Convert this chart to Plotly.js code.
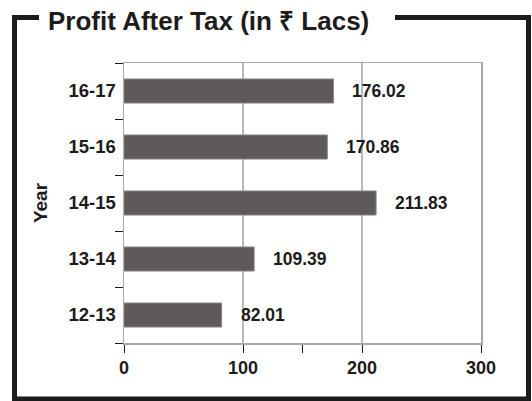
<!DOCTYPE html>
<html>
<head>
<meta charset="utf-8">
<script src="https://cdn.plot.ly/plotly-3.0.1.min.js"></script>
<style>html,body{margin:0;padding:0;background:#fff;}</style>
</head>
<body>
<div id="chart" style="width:532px;height:401px;"></div>
<script>
const years = ['12-13', '13-14', '14-15', '15-16', '16-17'];
const profit = [82.01, 109.39, 211.83, 170.86, 176.02];
const labels = ['82.01', '109.39', '211.83', '170.86', '176.02'];
const xTicks = [0, 100, 200, 300];
const xTickText = ['0', '100', '200', '300'];

const W = 532, H = 401;
const L = 124, R = 481, T = 63, B = 343;
const px = x => (x - L) / (R - L);
const py = y => (B - y) / (B - T);

const font = 'Arial, "Liberation Sans", sans-serif';
const dark = '#1e1b1b';

const trace = {
  type: 'bar',
  orientation: 'h',
  y: years,
  x: profit,
  marker: {color: '#5e5a5a', line: {color: '#8a8686', width: 1}},
  hoverinfo: 'none'
};

const annotations = years.map((y, i) => ({
  x: profit[i], y: y, xref: 'x', yref: 'y',
  text: labels[i], showarrow: false,
  xanchor: 'left', yanchor: 'middle', xshift: 17,
  font: {family: font, size: 17.5, color: dark, weight: 'bold'}
}));

const xl = px(14.5), xr = px(528.5), yt = py(17.5), yb = py(399);
const framePath = `M ${px(39)},${yt} L ${xl},${yt} L ${xl},${yb} L ${xr},${yb} L ${xr},${yt} L ${px(395)},${yt}`;

const layout = {
  width: W, height: H,
  margin: {l: L, r: W - R, t: T, b: H - B, pad: 0},
  paper_bgcolor: '#fff', plot_bgcolor: '#fff',
  showlegend: false,
  bargap: 0.57,
  title: {
    text: '<b>Profit After Tax (in ₹ Lacs)</b>',
    x: 48 / W, xanchor: 'left', xref: 'container',
    y: 1 - 21 / H, yanchor: 'middle', yref: 'container',
    font: {family: font, size: 26, color: dark}
  },
  xaxis: {
    range: [0, 300], fixedrange: true,
    tickvals: xTicks, ticktext: xTickText,
    ticks: 'outside', ticklen: 8, tickcolor: dark, tickwidth: 1,
    showgrid: true, gridcolor: '#b9b9b9', gridwidth: 1.5,
    showline: true, linecolor: '#a8a8a8', linewidth: 1.5, mirror: true,
    zeroline: false,
    tickfont: {family: font, size: 18, color: dark, weight: 'bold'},
    minor: {tickvals: [150], ticks: 'outside', ticklen: 8, tickcolor: dark, showgrid: false}
  },
  yaxis: {
    type: 'category', categoryorder: 'array', categoryarray: years,
    range: [-0.5, 4.5], fixedrange: true,
    tickson: 'boundaries',
    ticks: 'outside', ticklen: 8, tickcolor: dark, tickwidth: 1,
    ticklabelstandoff: 3,
    showgrid: false,
    showline: true, linecolor: '#a8a8a8', linewidth: 1.5, mirror: true,
    tickfont: {family: font, size: 18.5, color: dark, weight: 'bold'},
    title: {text: '<b>Year</b>', standoff: 16, font: {family: font, size: 19, color: dark}}
  },
  annotations: annotations,
  shapes: [{
    type: 'path', xref: 'paper', yref: 'paper', path: framePath,
    line: {color: dark, width: 5}, layer: 'above'
  }]
};

Plotly.newPlot('chart', [trace], layout, {displayModeBar: false, staticPlot: true});
</script>
</body>
</html>
